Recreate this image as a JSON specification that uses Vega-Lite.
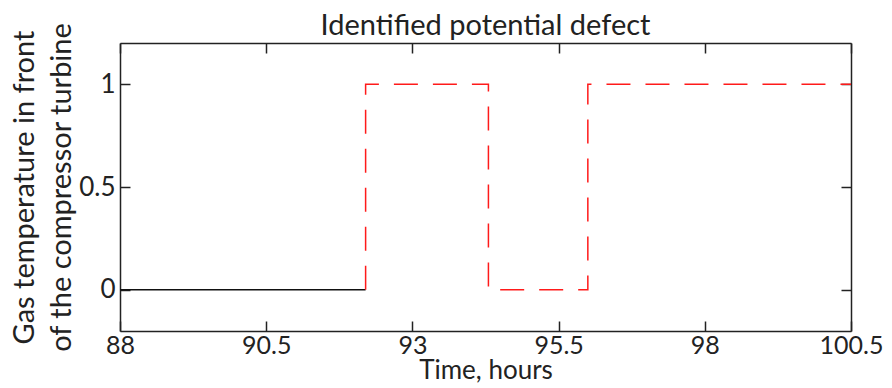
{
  "$schema": "https://vega.github.io/schema/vega-lite/v6.json",
  "width": 731,
  "height": 288,
  "autosize": "none",
  "padding": {"left": 120, "top": 43, "right": 41, "bottom": 57},
  "background": "white",
  "config": {
    "view": {"stroke": null},
    "font": "Lato",
    "axis": {
      "domainColor": "#222",
      "domainWidth": 1.5,
      "tickColor": "#222",
      "tickWidth": 1.5,
      "grid": false,
      "labelFont": "Lato",
      "labelFontSize": 26,
      "labelColor": "#222",
      "titleFont": "Lato",
      "titleFontSize": 29,
      "titleFontWeight": "normal",
      "titleColor": "#222"
    }
  },
  "title": {
    "text": "Identified potential defect",
    "font": "Lato",
    "fontSize": 29,
    "fontWeight": "normal",
    "color": "#222",
    "offset": -19
  },
  "data": {
    "values": [
      {"t": 88, "v": 0, "series": "normal", "o": 1},
      {"t": 92.2, "v": 0, "series": "normal", "o": 2},
      {"t": 92.2, "v": 0, "series": "defect", "o": 3},
      {"t": 92.2, "v": 1, "series": "defect", "o": 4},
      {"t": 94.3, "v": 0, "series": "defect", "o": 5},
      {"t": 96.0, "v": 1, "series": "defect", "o": 6},
      {"t": 100.5, "v": 1, "series": "defect", "o": 7}
    ]
  },
  "layer": [
    {
      "transform": [{"filter": "datum.series === 'normal'"}],
      "mark": {"type": "line", "color": "#111", "strokeWidth": 1.5, "interpolate": "step-after", "clip": true},
      "encoding": {
        "x": {
          "field": "t", "type": "quantitative",
          "scale": {"domain": [88, 100.5], "nice": false, "zero": false},
          "axis": {"orient": "bottom", "values": [88, 90.5, 93, 95.5, 98, 100.5], "title": "Time, hours", "titleFontSize": 26, "labelFontSize": 25, "tickSize": -10, "labelPadding": 12, "titlePadding": -1, "labelFlush": false, "format": ".1~f"}
        },
        "y": {
          "field": "v", "type": "quantitative",
          "scale": {"domain": [-0.2, 1.2], "nice": false, "zero": false},
          "axis": {"orient": "left", "values": [0, 0.5, 1], "title": ["Gas temperature in front", "of the compressor turbine"], "titleLineHeight": 37, "tickSize": -10, "labelPadding": 15, "titlePadding": 2, "format": ".1~f", "labelFlush": false}
        },
        "order": {"field": "o"}
      }
    },
    {
      "transform": [{"filter": "datum.series === 'defect'"}],
      "mark": {"type": "line", "color": "#ff1a1a", "strokeWidth": 1.5, "strokeDash": [24, 15], "interpolate": "step-after", "clip": true},
      "encoding": {
        "x": {
          "field": "t", "type": "quantitative",
          "axis": {"orient": "top", "values": [88, 90.5, 93, 95.5, 98, 100.5], "labels": false, "title": null, "tickSize": -10}
        },
        "y": {
          "field": "v", "type": "quantitative",
          "axis": {"orient": "right", "values": [0, 0.5, 1], "labels": false, "title": null, "tickSize": -10}
        },
        "order": {"field": "o"}
      }
    }
  ],
  "resolve": {"axis": {"x": "independent", "y": "independent"}}
}
